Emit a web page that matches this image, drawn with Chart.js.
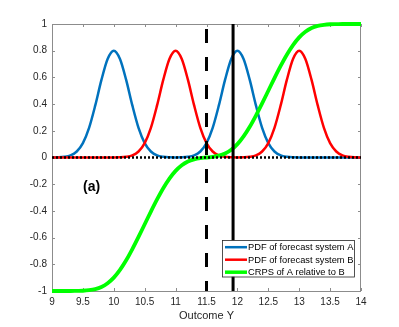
<!DOCTYPE html>
<html><head><meta charset="utf-8">
<script src="https://cdn.jsdelivr.net/npm/chart.js@4/dist/chart.umd.min.js"></script>
<style>html,body{margin:0;padding:0;background:#fff;overflow:hidden}</style>
</head><body>
<canvas id="c" width="399" height="327" style="display:block;width:399px;height:327px"></canvas>
<script>
// Outcome Y sample positions
const outcomeY = [9.0,9.1,9.2,9.3,9.4,9.5,9.6,9.7,9.8,9.9,
  10.0,10.1,10.2,10.3,10.4,10.5,10.6,10.7,10.8,10.9,
  11.0,11.1,11.2,11.3,11.4,11.5,11.6,11.7,11.8,11.9,
  12.0,12.1,12.2,12.3,12.4,12.5,12.6,12.7,12.8,12.9,
  13.0,13.1,13.2,13.3,13.4,13.5,13.6,13.7,13.8,13.9,14.0];
const pdfA = [0,0.001,0.005,0.016,0.045,0.108,0.222,0.390,0.581,0.738,
  0.800,0.738,0.581,0.390,0.222,0.108,0.045,0.016,0.005,0.001,
  0,0.001,0.005,0.016,0.045,0.108,0.222,0.390,0.581,0.738,
  0.800,0.738,0.581,0.390,0.222,0.108,0.045,0.016,0.005,0.001,
  0,0,0,0,0,0,0,0,0,0,0];
const pdfB = [0,0,0,0,0,0,0,0,0,0,
  0,0.001,0.005,0.016,0.045,0.108,0.222,0.390,0.581,0.738,
  0.800,0.738,0.581,0.390,0.222,0.108,0.045,0.016,0.005,0.001,
  0,0.001,0.005,0.016,0.045,0.108,0.222,0.390,0.581,0.738,
  0.800,0.738,0.581,0.390,0.222,0.108,0.045,0.016,0.005,0.001,0];
const crpsAB = [-1,-1,-1,-1,-0.999,-0.998,-0.994,-0.986,-0.970,-0.942,
  -0.900,-0.842,-0.770,-0.686,-0.595,-0.500,-0.405,-0.314,-0.230,-0.158,
  -0.100,-0.058,-0.030,-0.014,-0.005,0,0.005,0.014,0.030,0.058,
  0.100,0.158,0.230,0.314,0.405,0.500,0.595,0.686,0.770,0.842,
  0.900,0.942,0.970,0.986,0.994,0.998,0.999,1,1,1,1];
const seriesLabels = ['PDF of forecast system A','PDF of forecast system B','CRPS of A relative to B'];
const seriesColors = ['#0072BD','#FF0000','#00FF00'];
const dashedObs = 11.5;
const solidObs = 11.93;
const xTicks = [9,9.5,10,10.5,11,11.5,12,12.5,13,13.5,14];
const yTicks = [-1,-0.8,-0.6,-0.4,-0.2,0,0.2,0.4,0.6,0.8,1];
const xLabel = 'Outcome Y';
const panelLabel = '(a)';
const panelPos = [9.64, -0.22];

const FONT = "'Liberation Sans', Arial, Helvetica, sans-serif";
const pts = arr => outcomeY.map((x,i)=>({x, y: arr[i]}));

const frame = {
  id: 'frame',
  beforeDatasetsDraw(chart) {
    const {ctx, chartArea: a, scales: {x, y}} = chart;
    ctx.save();
    ctx.strokeStyle = '#8c8c8c';
    ctx.lineWidth = 1;
    ctx.strokeRect(Math.round(a.left)+0.5, Math.round(a.top)+0.5, Math.round(a.right-a.left)-1, Math.round(a.bottom-a.top));
    ctx.beginPath();
    const L = 3;
    xTicks.forEach(v => {
      const px = Math.round(x.getPixelForValue(v)) + 0.5;
      ctx.moveTo(px, a.bottom); ctx.lineTo(px, a.bottom - L);
      ctx.moveTo(px, a.top); ctx.lineTo(px, a.top + L);
    });
    yTicks.forEach(v => {
      const py = Math.round(y.getPixelForValue(v)) + 0.5;
      ctx.moveTo(a.left, py); ctx.lineTo(a.left + L, py);
      ctx.moveTo(a.right, py); ctx.lineTo(a.right - L, py);
    });
    ctx.stroke();
    ctx.restore();
  },
  afterDatasetsDraw(chart) {
    const {ctx, chartArea: a, scales: {x, y}} = chart;
    ctx.save();
    ctx.fillStyle = '#000';
    ctx.font = 'bold 14px ' + FONT;
    ctx.textAlign = 'center';
    ctx.textBaseline = 'middle';
    ctx.fillText(panelLabel, x.getPixelForValue(panelPos[0]), y.getPixelForValue(panelPos[1]));
    const bw = 132, bh = 36.5;
    const bx = a.right - 7 - bw, by = a.bottom - 14.3 - bh;
    ctx.fillStyle = '#fff';
    ctx.fillRect(bx, by, bw, bh);
    ctx.strokeStyle = '#262626';
    ctx.lineWidth = 0.8;
    ctx.strokeRect(Math.round(bx)+0.5, Math.round(by)+0.5, bw, bh);
    ctx.font = '9.3px ' + FONT;
    ctx.textAlign = 'left';
    seriesLabels.forEach((t, i) => {
      const cy = by + 7 + i * 12.5;
      ctx.strokeStyle = seriesColors[i];
      ctx.lineWidth = i === 2 ? 3.5 : 2.5;
      ctx.beginPath(); ctx.moveTo(bx + 3, cy); ctx.lineTo(bx + 25, cy); ctx.stroke();
      ctx.fillStyle = '#000';
      ctx.fillText(t, bx + 26, cy + 0.5);
    });
    ctx.restore();
  }
};

new Chart(document.getElementById('c'), {
  type: 'line',
  data: {
    datasets: [
      {label: seriesLabels[0], data: pts(pdfA), borderColor: seriesColors[0], borderWidth: 2.5, order: 5},
      {label: seriesLabels[1], data: pts(pdfB), borderColor: seriesColors[1], borderWidth: 2.5, order: 4},
      {label: seriesLabels[2], data: pts(crpsAB), borderColor: seriesColors[2], borderWidth: 3.8, order: 3},
      {label: 'obs dashed', data: [{x: dashedObs, y: 1}, {x: dashedObs, y: -1}], borderColor: '#000', borderWidth: 3, borderDash: [14, 14], borderDashOffset: 23, order: 2, cubicInterpolationMode: 'default', tension: 0},
      {label: 'obs solid', data: [{x: solidObs, y: -1}, {x: solidObs, y: 1}], borderColor: '#000', borderWidth: 3, order: 2, cubicInterpolationMode: 'default', tension: 0},
      {label: 'zero', data: [{x: 9, y: 0}, {x: 14, y: 0}], borderColor: '#000', borderWidth: 2.5, borderDash: [2, 2], order: 1, cubicInterpolationMode: 'default', tension: 0}
    ]
  },
  options: {
    responsive: false,
    animation: false,
    events: [],
    datasets: {line: {pointRadius: 0, cubicInterpolationMode: 'monotone', fill: false, clip: 6, borderCapStyle: 'butt'}},
    layout: {padding: {top: 24, right: 38, left: 0, bottom: 0}},
    plugins: {legend: {display: false}, tooltip: {enabled: false}},
    scales: {
      x: {
        type: 'linear', min: 9, max: 14,
        afterBuildTicks: s => { s.ticks = xTicks.map(v => ({value: v})); },
        afterFit: s => { s.height = 36; },
        grid: {display: false, drawTicks: false},
        border: {display: false},
        ticks: {padding: 5, color: '#262626', font: {family: FONT, size: 10}, maxRotation: 0, autoSkip: false,
          callback: v => String(+v.toFixed(2))},
        title: {display: true, text: xLabel, color: '#262626', font: {family: FONT, size: 11}, padding: {top: 0, bottom: 4}}
      },
      y: {
        type: 'linear', min: -1, max: 1,
        afterBuildTicks: s => { s.ticks = yTicks.map(v => ({value: v})); },
        afterFit: s => { s.width = 52; },
        grid: {display: false, drawTicks: false},
        border: {display: false},
        ticks: {padding: 5, color: '#262626', font: {family: FONT, size: 10}, autoSkip: false,
          callback: v => String(+v.toFixed(2))}
      }
    }
  },
  plugins: [frame]
});
</script>
</body></html>
